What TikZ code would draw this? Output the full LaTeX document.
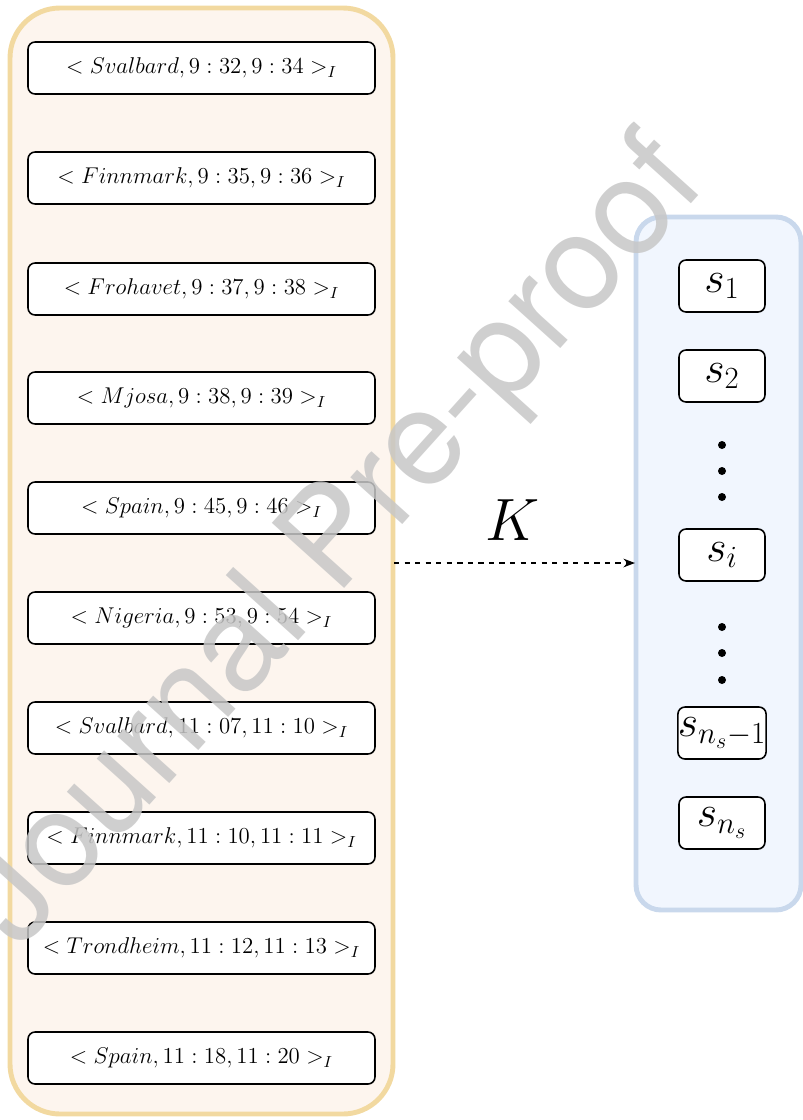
\RequirePackage{fix-cm}
\documentclass[tikz,border=0pt]{standalone}
\usepackage{fontspec}
\newfontfamily\wmfont{TeX Gyre Heros}
\usetikzlibrary{arrows.meta}
\definecolor{panelA}{RGB}{253,245,238}
\definecolor{edgeA}{RGB}{242,217,160}
\definecolor{panelB}{RGB}{241,246,254}
\definecolor{edgeB}{RGB}{201,216,236}
\tikzset{
  rec/.style={draw, fill=white, line width=0.9pt, rounded corners=4pt,
    minimum width=6.94cm, minimum height=1.04cm, inner sep=0pt,
    font=\fontsize{13}{16}\selectfont},
  sym/.style={draw, fill=white, line width=0.9pt, rounded corners=4pt,
    minimum width=1.72cm, minimum height=1.04cm, inner sep=0pt,
    font=\fontsize{25}{30}\selectfont},
  dot/.style={circle, fill=black, inner sep=0pt, minimum size=0.16cm},
}
\begin{document}
\begin{tikzpicture}[x=0.02cm, y=-0.02cm, >=Stealth]
  \useasboundingbox (0,0) rectangle (802,1120);
  % the two panels
  \draw[edgeA, fill=panelA, line width=2.8pt, rounded corners=1cm] (10,8) rectangle (393,1114);
  \draw[edgeB, fill=panelB, line width=2.8pt, rounded corners=0.5cm] (636,217) rectangle (801,910);
  % intervals
  \node[rec] (r1) at (201.5,68) {$<Svalbard,9:32,9:34>_I$};
  \node[rec] (r2) at (201.5,178) {$<Finnmark,9:35,9:36>_I$};
  \node[rec] (r3) at (201.5,289) {$<Frohavet,9:37,9:38>_I$};
  \node[rec] (r4) at (201.5,398) {$<Mjosa,9:38,9:39>_I$};
  \node[rec] (r5) at (201.5,508) {$<Spain,9:45,9:46>_I$};
  \node[rec] (r6) at (201.5,618) {$<Nigeria,9:53,9:54>_I$};
  \node[rec] (r7) at (201.5,728) {$<Svalbard,11:07,11:10>_I$};
  \node[rec] (r8) at (201.5,838) {$<Finnmark,11:10,11:11>_I$};
  \node[rec] (r9) at (201.5,948) {$<Trondheim,11:12,11:13>_I$};
  \node[rec] (r10) at (201.5,1058) {$<Spain,11:18,11:20>_I$};
  % symbols
  \node[sym] (s1) at (722,286) {$s_1$};
  \node[sym] (s2) at (722,376) {$s_2$};
  \node[dot] (d1) at (722,445) {};
  \node[dot] (d2) at (722,471) {};
  \node[dot] (d3) at (722,497) {};
  \node[sym] (si) at (722,555) {$s_i$};
  \node[dot] (d4) at (722,627) {};
  \node[dot] (d5) at (722,653) {};
  \node[dot] (d6) at (722,680) {};
  \node[sym] (sm) at (722,733) {$s_{n_s-1}$};
  \node[sym] (sn) at (722,823) {$s_{n_s}$};
  % mapping
  \coordinate (from) at (394,563);
  \coordinate (to) at (635,563);
  \draw[->, dashed, line width=0.8pt] (from) -- (to);
  \node[font=\fontsize{34}{38}\selectfont] (k) at (513,520) {$K$};
  % watermark
  \node[rotate=48, font=\wmfont\fontsize{76}{76}\selectfont, text=black!22, opacity=0.85] (wm) at (338,545) {Journal Pre-proof};
\end{tikzpicture}
\end{document}
